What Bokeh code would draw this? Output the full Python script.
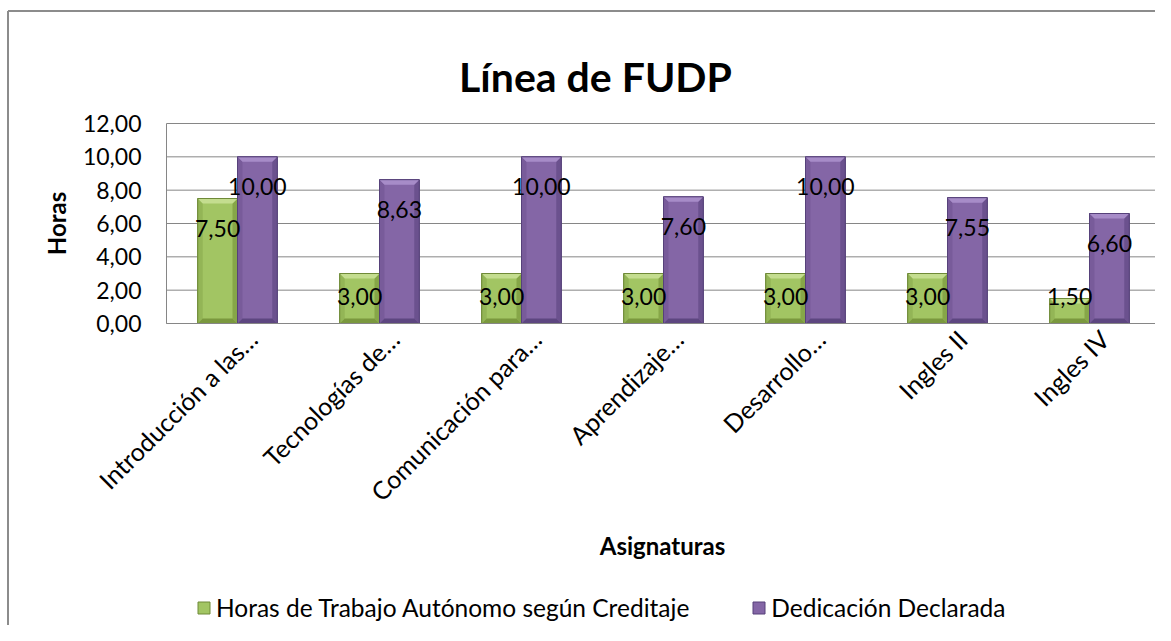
import math
from bokeh.plotting import figure
from bokeh.models import ColumnDataSource, Range1d, Legend, LegendItem
from bokeh.core.properties import value
from bokeh.embed import file_html
from bokeh.resources import INLINE

# ---------------- data ----------------
title_text = "Línea de FUDP"
categories = ["Introducción a las…", "Tecnologías de…", "Comunicación para…",
              "Aprendizaje…", "Desarrollo…", "Ingles II", "Ingles IV"]
horas_autonomo = [7.50, 3.00, 3.00, 3.00, 3.00, 3.00, 1.50]
dedicacion = [10.00, 8.63, 10.00, 7.60, 10.00, 7.55, 6.60]
series_names = ["Horas de Trabajo Autónomo según Creditaje", "Dedicación Declarada"]
y_ticks = [0, 2, 4, 6, 8, 10, 12]
y_axis_title = "Horas"
x_axis_title = "Asignaturas"

# ---------------- layout (pixels) ----------------
FONT = value("Lato")
W, H = 1155, 625
PLOT_L, PLOT_T, PLOT_B = 166, 123, 323
CAT_PX = 142.0
Y_MAX = 12.0
K = (PLOT_B - PLOT_T) / Y_MAX          # px per value unit

def dx(px):   # canvas px -> x data (category slots)
    return (px - PLOT_L) / CAT_PX

def dy(py):   # canvas px (from top) -> y data
    return (PLOT_B - py) / K

BAR_W = 0.28
BX = 5 / CAT_PX     # bevel size
BY = 5 / K

green = dict(face="#a2c563", top="#c4dd8f", left="#93b556", right="#86a648",
             bottom="#7a983e", line="#6f8a38")
purple = dict(face="#8466a6", top="#a78cc8", left="#785b9a", right="#6b518e",
              bottom="#5d4680", line="#56417a")
GRID = "#868686"
BORDER = "#8c8c8c"

p = figure(x_range=Range1d(dx(0), dx(W)), y_range=Range1d(dy(H), dy(0)),
           width=W, height=H, output_backend="svg", toolbar_location=None,
           x_axis_type=None, y_axis_type=None,
           min_border=0, min_border_left=0, min_border_right=0,
           min_border_top=0, min_border_bottom=0)
p.outline_line_color = None
p.background_fill_color = "white"
p.border_fill_color = "white"
p.xgrid.visible = False
p.ygrid.visible = False

n = len(categories)
slots = [i + 0.5 for i in range(n)]

# chart border (left and top edges; others lie outside the window)
p.segment(x0=[dx(7.5), dx(7.5)], y0=[dy(H), dy(10.5)], x1=[dx(7.5), dx(W)],
          y1=[dy(10.5), dy(10.5)], line_color=BORDER, line_width=2)

# gridlines + axis lines
p.segment(x0=[0] * len(y_ticks), y0=y_ticks, x1=[n] * len(y_ticks), y1=y_ticks,
          line_color=GRID, line_width=1)
p.segment(x0=[0], y0=[0], x1=[0], y1=[Y_MAX], line_color=GRID, line_width=1)

# y tick labels
p.text(x=[0] * len(y_ticks), y=y_ticks,
       text=[f"{t:.2f}".replace(".", ",") for t in y_ticks],
       x_offset=-25, text_align="right", text_baseline="middle",
       text_font=FONT, text_font_size="23px", text_color="#000000")

# ---------------- bars with bevel ----------------
def bevel_bars(values, offset, col):
    centers = [s + offset for s in slots]
    L = [c - BAR_W / 2 for c in centers]
    R = [c + BAR_W / 2 for c in centers]
    src = ColumnDataSource(dict(x=centers, top=values))
    base = p.vbar(x="x", top="top", bottom=0, width=BAR_W, source=src,
                  fill_color=col["face"], line_color=col["line"], line_width=1)
    d = [min(BY, v / 3) for v in values]
    top_xs = [[l, r, r - BX, l + BX] for l, r in zip(L, R)]
    top_ys = [[v, v, v - dd, v - dd] for v, dd in zip(values, d)]
    bot_ys = [[0, 0, dd, dd] for dd in d]
    left_xs = [[l, l + BX, l + BX, l] for l in L]
    right_xs = [[r, r - BX, r - BX, r] for r in R]
    side_ys = [[0, dd, v - dd, v] for v, dd in zip(values, d)]
    p.patches(xs=left_xs, ys=side_ys, fill_color=col["left"], line_color=None)
    p.patches(xs=right_xs, ys=side_ys, fill_color=col["right"], line_color=None)
    p.patches(xs=top_xs, ys=top_ys, fill_color=col["top"], line_color=None)
    p.patches(xs=top_xs, ys=bot_ys, fill_color=col["bottom"], line_color=None)
    p.vbar(x="x", top="top", bottom=0, width=BAR_W, source=src,
           fill_color=None, line_color=col["line"], line_width=1)
    return base, centers

r1, c1 = bevel_bars(horas_autonomo, -BAR_W / 2, green)
r2, c2 = bevel_bars(dedicacion, BAR_W / 2, purple)

# bottom axis line over the bars
p.segment(x0=[0], y0=[0], x1=[n], y1=[0], line_color=GRID, line_width=1)

# ---------------- data labels ----------------
for vals, cx in ((horas_autonomo, c1), (dedicacion, c2)):
    p.text(x=cx, y=[max(v - 1.8, 1.6) for v in vals],
           text=[f"{v:.2f}".replace(".", ",") for v in vals],
           text_align="center", text_baseline="middle",
           text_font=FONT, text_font_size="23px", text_color="#000000")

# ---------------- category labels (rotated 45°) ----------------
p.text(x=slots, y=[0] * n, text=categories, angle=math.pi / 4,
       x_offset=15, y_offset=11, text_align="right", text_baseline="middle",
       text_font=FONT, text_font_size="25px", text_color="#000000")

# ---------------- titles ----------------
p.text(x=[dx(595)], y=[dy(76)], text=[title_text], text_align="center",
       text_baseline="alphabetic", text_font=FONT, text_font_size="41px",
       text_font_style="bold", text_color="#000000")
p.text(x=[dx(662)], y=[dy(545)], text=[x_axis_title], text_align="center",
       text_baseline="alphabetic", text_font=FONT, text_font_size="24px",
       text_font_style="bold", text_color="#000000")
p.text(x=[dx(56)], y=[dy(223)], text=[y_axis_title], angle=math.pi / 2,
       text_align="center", text_baseline="middle", text_font=FONT,
       text_font_size="24px", text_font_style="bold", text_color="#000000")

# ---------------- legend ----------------
legend = Legend(items=[LegendItem(label=series_names[0], renderers=[r1]),
                       LegendItem(label=series_names[1], renderers=[r2])],
                orientation="horizontal", location=(196, 3),
                glyph_width=15, glyph_height=15, label_standoff=5, spacing=62,
                padding=0, margin=0, border_line_color=None,
                background_fill_alpha=0,
                label_text_font="Lato", label_text_font_size="24.5px",
                label_text_color="#000000")
p.add_layout(legend, "center")

open("out.html", "w").write(file_html(p, INLINE))
